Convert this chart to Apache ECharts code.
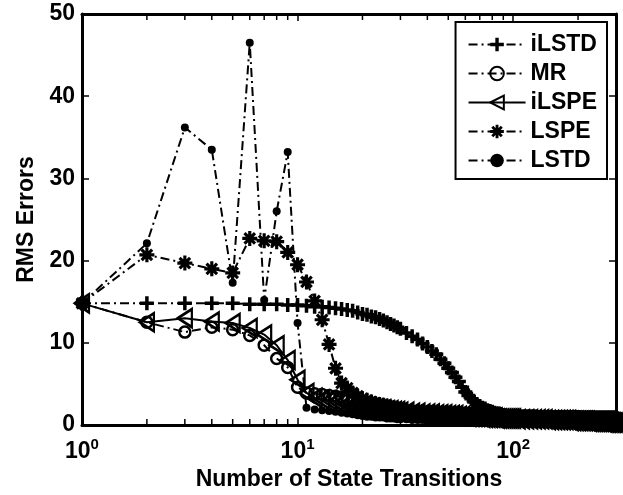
<!DOCTYPE html>
<html>
<head>
<meta charset="utf-8">
<script src="https://cdn.jsdelivr.net/npm/echarts@6/dist/echarts.min.js"></script>
<style>
  html, body { margin: 0; padding: 0; background: #fff; }
  #chart { width: 623px; height: 495px; }
</style>
</head>
<body>
<div id="chart"></div>
<script>
// number of state transitions (x, log scale)
const xs = [
  1, 2, 3, 4, 5, 6, 7, 8, 9, 10,
  11, 12, 13, 14, 15, 16, 17, 18, 19, 20,
  21, 22, 23, 24, 25, 26, 27, 28, 29, 30,
  32, 34, 36, 38, 40, 42, 44, 46, 48, 50,
  52, 54, 56, 58, 60, 62, 64, 66, 68, 70,
  72, 74, 76, 78, 80, 82, 84, 86, 88, 90,
  92, 94, 96, 98, 100,
  105, 110, 115, 120, 125, 130, 135, 140, 145, 150,
  155, 160, 165, 170, 175, 180, 185, 190, 195, 200,
  205, 210, 215, 220, 225, 230, 235, 240, 245, 250,
  255, 260, 265, 270, 275, 280, 285, 290, 295, 300
]

const iLSTD = [
  14.8, 14.8, 14.8, 14.8, 14.8, 14.7, 14.7, 14.7, 14.6, 14.6,
  14.5, 14.4, 14.4, 14.3, 14.2, 14.1, 14.0, 13.9, 13.7, 13.5,
  13.4, 13.2, 13.1, 12.9, 12.7, 12.5, 12.3, 12.1, 11.9, 11.7,
  11.2, 10.8, 10.4, 9.9, 9.5, 9.0, 8.6, 8.0, 7.5, 6.9,
  6.4, 5.8, 5.3, 4.6, 4.0, 3.6, 3.2, 2.8, 2.5, 2.3,
  2.1, 2.0, 1.8, 1.7, 1.6, 1.5, 1.4, 1.4, 1.3, 1.2,
  1.2, 1.1, 1.1, 1.0, 1.0,
  1.0, 1.0, 1.0, 1.0, 1.0, 0.9, 0.9, 0.9, 0.9, 0.9,
  0.9, 0.9, 0.9, 0.9, 0.9, 0.9, 0.9, 0.9, 0.9, 0.9,
  0.9, 0.9, 0.9, 0.9, 0.9, 0.9, 0.9, 0.9, 0.9, 0.9,
  0.9, 0.9, 0.9, 0.9, 0.9, 0.9, 0.9, 0.9, 0.9, 0.9
]
const MR = [
  14.8, 12.5, 11.3, 11.9, 11.6, 10.9, 9.7, 8.1, 7.0, 4.6,
  3.9, 3.8, 3.7, 3.6, 3.5, 3.4, 3.2, 3.0, 2.8, 2.6,
  2.4, 2.3, 2.2, 2.1, 2.0, 1.9, 1.9, 1.8, 1.8, 1.7,
  1.7, 1.6, 1.6, 1.5, 1.5, 1.5, 1.5, 1.4, 1.4, 1.4,
  1.4, 1.4, 1.3, 1.3, 1.3, 1.3, 1.3, 1.3, 1.2, 1.2,
  1.2, 1.2, 1.2, 1.2, 1.2, 1.2, 1.1, 1.1, 1.1, 1.1,
  1.1, 1.1, 1.1, 1.1, 1.1,
  1.1, 1.1, 1.1, 1.1, 1.1, 1.0, 1.0, 1.0, 1.0, 1.0,
  1.0, 1.0, 1.0, 1.0, 1.0, 1.0, 1.0, 1.0, 1.0, 1.0,
  0.9, 0.9, 0.9, 0.9, 0.9, 0.9, 0.9, 0.9, 0.9, 0.9,
  0.9, 0.9, 0.9, 0.9, 0.9, 0.9, 0.9, 0.9, 0.9, 0.9
]
const iLSPE = [
  14.8, 12.5, 13.0, 12.6, 12.4, 11.8, 11.0, 9.7, 7.9, 5.5,
  3.9, 3.3, 3.1, 3.0, 2.9, 2.8, 2.6, 2.5, 2.4, 2.3,
  2.2, 2.1, 2.0, 1.9, 1.9, 1.8, 1.8, 1.7, 1.7, 1.6,
  1.6, 1.5, 1.5, 1.4, 1.4, 1.4, 1.3, 1.3, 1.3, 1.2,
  1.2, 1.2, 1.1, 1.1, 1.1, 1.0, 1.0, 1.0, 1.0, 1.0,
  0.9, 0.9, 0.9, 0.9, 0.9, 0.9, 0.8, 0.8, 0.8, 0.8,
  0.8, 0.8, 0.8, 0.8, 0.8,
  0.7, 0.7, 0.7, 0.7, 0.7, 0.7, 0.7, 0.7, 0.6, 0.6,
  0.6, 0.6, 0.6, 0.6, 0.6, 0.6, 0.5, 0.5, 0.5, 0.5,
  0.5, 0.5, 0.5, 0.5, 0.4, 0.4, 0.4, 0.4, 0.4, 0.4,
  0.4, 0.4, 0.3, 0.3, 0.3, 0.3, 0.3, 0.3, 0.3, 0.3
]
const LSPE = [
  14.8, 20.7, 19.7, 19.0, 18.5, 22.7, 22.4, 22.3, 21.0, 19.5,
  17.4, 15.1, 12.8, 9.8, 6.9, 5.1, 4.5, 3.9, 3.5, 3.2,
  3.0, 2.8, 2.6, 2.5, 2.4, 2.3, 2.2, 2.1, 2.0, 1.9,
  1.8, 1.7, 1.6, 1.6, 1.5, 1.5, 1.4, 1.4, 1.3, 1.3,
  1.3, 1.2, 1.2, 1.2, 1.1, 1.1, 1.1, 1.0, 1.0, 1.0,
  1.0, 1.0, 0.9, 0.9, 0.9, 0.9, 0.9, 0.9, 0.8, 0.8,
  0.8, 0.8, 0.8, 0.8, 0.7,
  0.7, 0.7, 0.7, 0.7, 0.7, 0.7, 0.7, 0.7, 0.6, 0.6,
  0.6, 0.6, 0.6, 0.6, 0.6, 0.6, 0.5, 0.5, 0.5, 0.5,
  0.5, 0.5, 0.5, 0.5, 0.5, 0.5, 0.5, 0.5, 0.4, 0.4,
  0.4, 0.4, 0.4, 0.4, 0.4, 0.4, 0.4, 0.4, 0.4, 0.4
]
const LSTD = [
  14.8, 22.1, 36.2, 33.5, 17.3, 46.5, 15.2, 26.0, 33.2, 12.4,
  2.1, 1.9, 1.8, 1.7, 1.6, 1.5, 1.4, 1.3, 1.2, 1.1,
  1.0, 1.0, 0.9, 0.9, 0.9, 0.8, 0.8, 0.8, 0.7, 0.7,
  0.7, 0.6, 0.6, 0.6, 0.5, 0.5, 0.5, 0.5, 0.5, 0.5,
  0.4, 0.4, 0.4, 0.4, 0.4, 0.4, 0.4, 0.3, 0.3, 0.3,
  0.3, 0.3, 0.3, 0.3, 0.3, 0.3, 0.3, 0.2, 0.2, 0.2,
  0.2, 0.2, 0.2, 0.2, 0.2,
  0.2, 0.2, 0.2, 0.2, 0.2, 0.1, 0.1, 0.1, 0.1, 0.1,
  0.1, 0.1, 0.1, 0.1, 0.1, 0.1, 0.1, 0.1, 0.1, 0.1,
  0.0, 0.0, 0.0, 0.0, 0.0, 0.0, 0.0, 0.0, 0.0, 0.0,
  0.0, 0.0, 0.0, 0.0, 0.0, 0.0, 0.0, 0.0, 0.0, 0.0
]

const seriesNames = ['iLSTD', 'MR', 'iLSPE', 'LSPE', 'LSTD']
const yTicks = [0, 10, 20, 30, 40, 50]
const minorTicks = [2, 3, 4, 5, 6, 7, 8, 9, 20, 30, 40, 50, 60, 70, 80, 90, 200, 300]

const FONT = '"Liberation Sans", Arial, Helvetica, sans-serif'
const dashDot = [9, 4, 2, 4]

// filled marker shapes (10x10 box), so the strokes stay thick like matlab's
const PLUS = 'path://M3.75,0H6.25V3.75H10V6.25H6.25V10H3.75V6.25H0V3.75H3.75Z'
const STAR = 'path://M3.95,0H6.05V10H3.95Z' +
  'M0,3.95H10V6.05H0Z' +
  'M2.24,0.76L9.24,7.76L7.76,9.24L0.76,2.24Z' +
  'M7.76,0.76L9.24,2.24L2.24,9.24L0.76,7.76Z'

function makeSeries(name, values, symbol, size, opts) {
  return Object.assign({
    name: name,
    type: 'line',
    data: xs.map((x, i) => [x, values[i]]),
    symbol: symbol,
    symbolSize: size,
    showAllSymbol: true,
    lineStyle: { color: '#000', width: 2, type: dashDot },
    itemStyle: { color: 'transparent', borderColor: '#000', borderWidth: 2.5 },
    emphasis: { disabled: true }
  }, opts || {})
}

function logLabel(v) {
  const e = Math.round(Math.log10(v) * 1000) / 1000
  if (Math.abs(e - Math.round(e)) > 1e-6) return ''
  return '{b|10}{s|' + Math.round(e) + '}'
}

const chart = echarts.init(document.getElementById('chart'), null, { renderer: 'canvas' })

const axisLine = { show: true, onZero: false, lineStyle: { color: '#000', width: 3 } }
const tick = { show: true, inside: true, length: 7, lineStyle: { color: '#000', width: 1.5 } }
const solidMark = { color: '#000', borderColor: '#000', borderWidth: 0 }

chart.setOption({
  animation: false,
  backgroundColor: '#fff',
  grid: { left: 82, right: 7, top: 14, bottom: 70, outerBoundsMode: 'none' },
  legend: {
    data: seriesNames,
    orient: 'vertical',
    right: 16,
    top: 22,
    padding: [11, 10, 7, 12],
    itemWidth: 57,
    itemHeight: 17,
    itemGap: 6,
    backgroundColor: '#fff',
    borderColor: '#000',
    borderWidth: 2,
    borderRadius: 0,
    textStyle: { fontFamily: FONT, fontWeight: 'bold', fontSize: 23, color: '#000' }
  },
  xAxis: [
    {
      type: 'log',
      logBase: 10,
      min: 1,
      max: 300,
      name: 'Number of State Transitions',
      nameLocation: 'middle',
      nameGap: 38,
      nameTextStyle: { fontFamily: FONT, fontWeight: 'bold', fontSize: 23, color: '#000' },
      axisLine: axisLine,
      axisTick: tick,
      splitLine: { show: false },
      axisLabel: {
        margin: 12,
        formatter: logLabel,
        rich: {
          b: { fontFamily: FONT, fontWeight: 'bold', fontSize: 23, color: '#000', lineHeight: 30 },
          s: { fontFamily: FONT, fontWeight: 'bold', fontSize: 15, color: '#000', lineHeight: 15, verticalAlign: 'top' }
        }
      }
    },
    {
      type: 'log',
      logBase: 10,
      min: 1,
      max: 300,
      position: 'top',
      axisLine: axisLine,
      axisTick: tick,
      axisLabel: { show: false },
      splitLine: { show: false }
    }
  ],
  yAxis: [
    {
      type: 'value',
      min: yTicks[0],
      max: yTicks[yTicks.length - 1],
      interval: 10,
      name: 'RMS Errors',
      nameLocation: 'middle',
      nameGap: 44,
      nameTextStyle: { fontFamily: FONT, fontWeight: 'bold', fontSize: 23, color: '#000' },
      axisLine: axisLine,
      axisTick: tick,
      splitLine: { show: false },
      axisLabel: { margin: 7, fontFamily: FONT, fontWeight: 'bold', fontSize: 23, color: '#000' }
    },
    {
      type: 'value',
      position: 'right',
      min: yTicks[0],
      max: yTicks[yTicks.length - 1],
      interval: 10,
      axisLine: axisLine,
      axisTick: tick,
      axisLabel: { show: false },
      splitLine: { show: false }
    }
  ],
  series: [
    makeSeries('iLSTD', iLSTD, PLUS, 14, { itemStyle: solidMark }),
    makeSeries('MR', MR, 'circle', 11),
    makeSeries('iLSPE', iLSPE, 'triangle', [18, 14], {
      symbolRotate: 90,
      lineStyle: { color: '#000', width: 2, type: 'solid' }
    }),
    makeSeries('LSPE', LSPE, STAR, 15, { itemStyle: solidMark }),
    makeSeries('LSTD', LSTD, 'circle', 8, { itemStyle: solidMark }),
    {
      // minor log ticks on bottom and top edges
      type: 'custom',
      silent: true,
      z: 5,
      data: minorTicks.map(v => [v, 0]),
      renderItem: function (params, api) {
        const x = api.value(0)
        const bottom = api.coord([x, yTicks[0]])
        const top = api.coord([x, yTicks[yTicks.length - 1]])
        const style = { stroke: '#000', lineWidth: 1.5 }
        return {
          type: 'group',
          children: [
            { type: 'line', shape: { x1: bottom[0], y1: bottom[1], x2: bottom[0], y2: bottom[1] - 6 }, style: style },
            { type: 'line', shape: { x1: top[0], y1: top[1], x2: top[0], y2: top[1] + 6 }, style: style }
          ]
        }
      }
    }
  ]
})

window.addEventListener('resize', () => chart.resize())
</script>
</body>
</html>
